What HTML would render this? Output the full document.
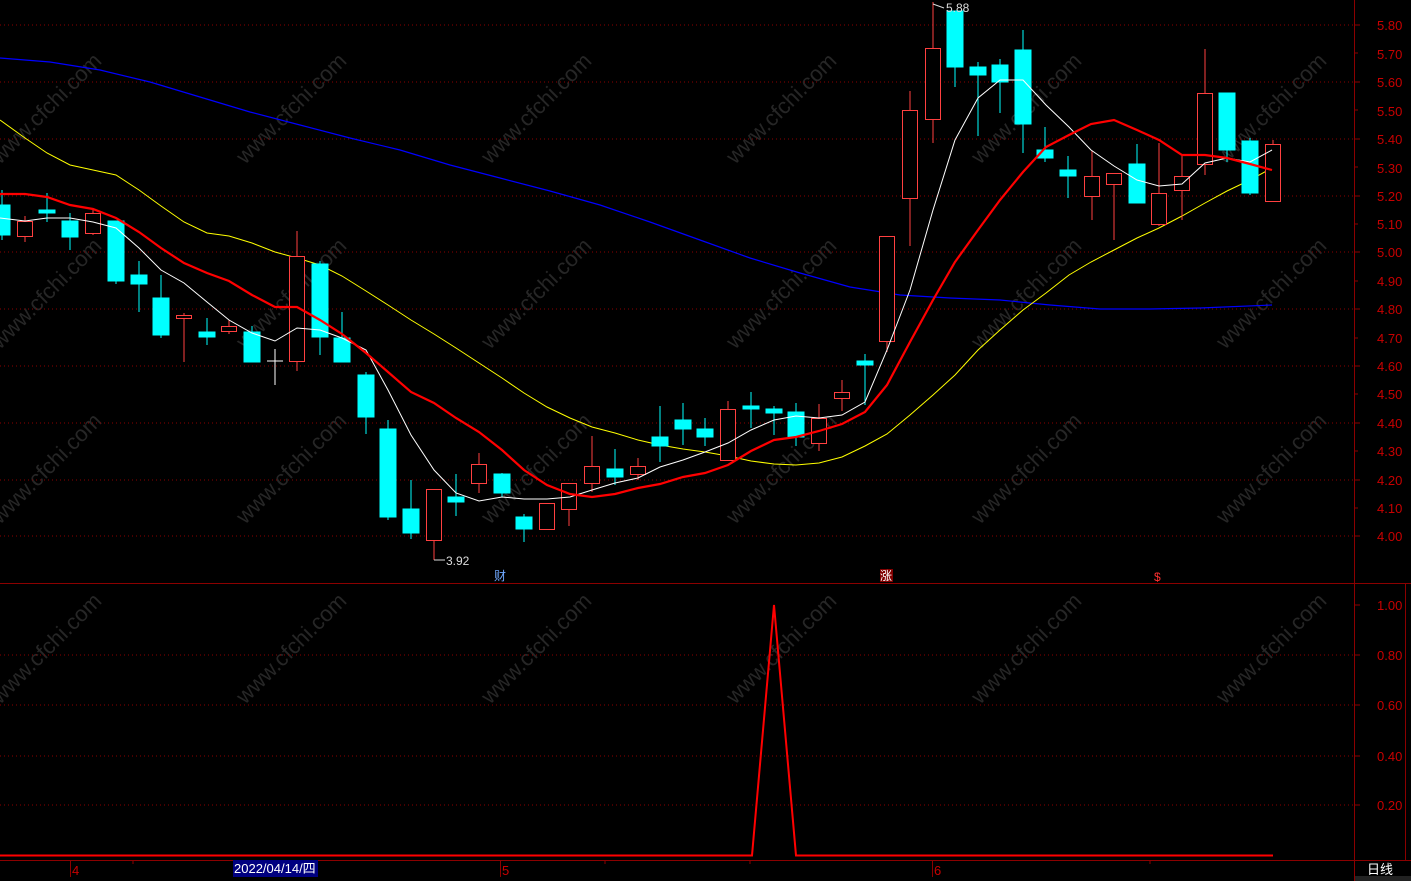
<!DOCTYPE html>
<html><head><meta charset="utf-8"><style>
html,body{margin:0;padding:0;background:#000;}
svg{display:block;font-family:"Liberation Sans","Noto Sans CJK SC",sans-serif;}
</style></head><body>
<svg width="1411" height="881" viewBox="0 0 1411 881" xmlns="http://www.w3.org/2000/svg">
<rect width="1411" height="881" fill="#000"/>
<!-- watermarks -->
<g fill="#262626" font-size="22" font-family="Liberation Sans,sans-serif">
<text transform="translate(0,165) rotate(-45)">www.cfchi.com</text>
<text transform="translate(245,165) rotate(-45)">www.cfchi.com</text>
<text transform="translate(490,165) rotate(-45)">www.cfchi.com</text>
<text transform="translate(735,165) rotate(-45)">www.cfchi.com</text>
<text transform="translate(980,165) rotate(-45)">www.cfchi.com</text>
<text transform="translate(1225,165) rotate(-45)">www.cfchi.com</text>
<text transform="translate(0,350) rotate(-45)">www.cfchi.com</text>
<text transform="translate(245,350) rotate(-45)">www.cfchi.com</text>
<text transform="translate(490,350) rotate(-45)">www.cfchi.com</text>
<text transform="translate(735,350) rotate(-45)">www.cfchi.com</text>
<text transform="translate(980,350) rotate(-45)">www.cfchi.com</text>
<text transform="translate(1225,350) rotate(-45)">www.cfchi.com</text>
<text transform="translate(0,525) rotate(-45)">www.cfchi.com</text>
<text transform="translate(245,525) rotate(-45)">www.cfchi.com</text>
<text transform="translate(490,525) rotate(-45)">www.cfchi.com</text>
<text transform="translate(735,525) rotate(-45)">www.cfchi.com</text>
<text transform="translate(980,525) rotate(-45)">www.cfchi.com</text>
<text transform="translate(1225,525) rotate(-45)">www.cfchi.com</text>
<text transform="translate(0,705) rotate(-45)">www.cfchi.com</text>
<text transform="translate(245,705) rotate(-45)">www.cfchi.com</text>
<text transform="translate(490,705) rotate(-45)">www.cfchi.com</text>
<text transform="translate(735,705) rotate(-45)">www.cfchi.com</text>
<text transform="translate(980,705) rotate(-45)">www.cfchi.com</text>
<text transform="translate(1225,705) rotate(-45)">www.cfchi.com</text>
</g>
<!-- grid -->
<g stroke="#8b0000" stroke-width="1" stroke-dasharray="1,3">
<line x1="0" y1="25" x2="1354" y2="25"/><line x1="0" y1="82" x2="1354" y2="82"/>
<line x1="0" y1="139" x2="1354" y2="139"/><line x1="0" y1="196" x2="1354" y2="196"/>
<line x1="0" y1="252" x2="1354" y2="252"/><line x1="0" y1="309" x2="1354" y2="309"/>
<line x1="0" y1="366" x2="1354" y2="366"/><line x1="0" y1="423" x2="1354" y2="423"/>
<line x1="0" y1="480" x2="1354" y2="480"/><line x1="0" y1="536" x2="1354" y2="536"/>
<line x1="0" y1="655" x2="1354" y2="655"/><line x1="0" y1="705" x2="1354" y2="705"/>
<line x1="0" y1="756" x2="1354" y2="756"/><line x1="0" y1="805" x2="1354" y2="805"/>
</g>
<!-- frame -->
<g stroke="#8b0000" stroke-width="1" fill="none">
<line x1="1354.5" y1="0" x2="1354.5" y2="881"/>
<line x1="0" y1="583.5" x2="1411" y2="583.5"/>
<line x1="0" y1="860.5" x2="1411" y2="860.5"/>
<line x1="1405.5" y1="583" x2="1405.5" y2="860"/>
<line x1="1354" y1="0" x2="1354" y2="0"/>
</g>
<g stroke="#8b0000">
<line x1="1354" y1="25" x2="1360" y2="25"/><line x1="1354" y1="53" x2="1358" y2="53"/>
<line x1="1354" y1="82" x2="1360" y2="82"/><line x1="1354" y1="110" x2="1358" y2="110"/>
<line x1="1354" y1="139" x2="1360" y2="139"/><line x1="1354" y1="167" x2="1358" y2="167"/>
<line x1="1354" y1="196" x2="1360" y2="196"/><line x1="1354" y1="224" x2="1358" y2="224"/>
<line x1="1354" y1="252" x2="1360" y2="252"/><line x1="1354" y1="281" x2="1358" y2="281"/>
<line x1="1354" y1="309" x2="1360" y2="309"/><line x1="1354" y1="338" x2="1358" y2="338"/>
<line x1="1354" y1="366" x2="1360" y2="366"/><line x1="1354" y1="394" x2="1358" y2="394"/>
<line x1="1354" y1="423" x2="1360" y2="423"/><line x1="1354" y1="451" x2="1358" y2="451"/>
<line x1="1354" y1="480" x2="1360" y2="480"/><line x1="1354" y1="508" x2="1358" y2="508"/>
<line x1="1354" y1="536" x2="1360" y2="536"/>
<line x1="1354" y1="605" x2="1360" y2="605"/><line x1="1354" y1="655" x2="1360" y2="655"/>
<line x1="1354" y1="705" x2="1360" y2="705"/><line x1="1354" y1="756" x2="1360" y2="756"/>
<line x1="1354" y1="805" x2="1360" y2="805"/>
</g>
<g fill="#c80000" font-size="13">
<text x="1377" y="30">5.80</text><text x="1377" y="59">5.70</text><text x="1377" y="87">5.60</text>
<text x="1377" y="116">5.50</text><text x="1377" y="144">5.40</text><text x="1377" y="173">5.30</text>
<text x="1377" y="201">5.20</text><text x="1377" y="229">5.10</text><text x="1377" y="257">5.00</text>
<text x="1377" y="286">4.90</text><text x="1377" y="314">4.80</text><text x="1377" y="343">4.70</text>
<text x="1377" y="371">4.60</text><text x="1377" y="399">4.50</text><text x="1377" y="428">4.40</text>
<text x="1377" y="456">4.30</text><text x="1377" y="485">4.20</text><text x="1377" y="513">4.10</text>
<text x="1377" y="541">4.00</text>
<text x="1377" y="610">1.00</text><text x="1377" y="660">0.80</text><text x="1377" y="710">0.60</text>
<text x="1377" y="761">0.40</text><text x="1377" y="810">0.20</text>
</g>
<!-- MA60 blue -->
<polyline fill="none" stroke="#0000ff" stroke-width="1.2" points="0,58 50,62 100,70 150,82 200,97 250,112 300,125 350,138 400,150 450,165 500,178 550,191 600,205 650,222 700,240 750,258 800,273 850,287 900,295 950,298 1000,300 1050,305 1100,309 1150,309 1200,308 1272,305"/>
<!-- MA20 yellow -->
<polyline fill="none" stroke="#ffff00" stroke-width="1" points="0,120 25,138 47,153 70,165 93,170 116,175 139,190 161,206 184,222 207,233 229,236 252,243 275,252 297,258 320,265 342,276 366,291 388,305 411,320 434,334 456,348 479,363 502,378 524,393 547,407 570,418 592,427 615,433 638,440 660,445 683,449 705,452 728,456 751,461 774,464 796,465 819,463 842,457 865,446 887,434 910,415 933,395 955,375 978,350 1000,330 1023,310 1046,293 1069,275 1091,262 1114,250 1137,238 1159,228 1182,216 1205,203 1227,191 1250,180 1272,168"/>
<!-- candles -->
<g stroke-width="1">
<g stroke="#00ffff" fill="#00ffff">
<line x1="2" y1="190" x2="2" y2="240"/><rect x="-6" y="205" width="16" height="30"/>
<line x1="47" y1="193" x2="47" y2="222"/><rect x="39" y="210" width="16" height="3"/>
<line x1="70" y1="213" x2="70" y2="250"/><rect x="62" y="221" width="16" height="16"/>
<line x1="116" y1="221" x2="116" y2="284"/><rect x="108" y="221" width="16" height="60"/>
<line x1="139" y1="261" x2="139" y2="312"/><rect x="131" y="275" width="16" height="9"/>
<line x1="161" y1="275" x2="161" y2="338"/><rect x="153" y="298" width="16" height="37"/>
<line x1="207" y1="318" x2="207" y2="345"/><rect x="199" y="332" width="16" height="5"/>
<line x1="252" y1="326" x2="252" y2="362"/><rect x="244" y="332" width="16" height="30"/>
<line x1="320" y1="261" x2="320" y2="355"/><rect x="312" y="264" width="16" height="73"/>
<line x1="342" y1="312" x2="342" y2="362"/><rect x="334" y="338" width="16" height="24"/>
<line x1="366" y1="372" x2="366" y2="434"/><rect x="358" y="375" width="16" height="42"/>
<line x1="388" y1="420" x2="388" y2="520"/><rect x="380" y="429" width="16" height="88"/>
<line x1="411" y1="480" x2="411" y2="539"/><rect x="403" y="509" width="16" height="24"/>
<line x1="456" y1="474" x2="456" y2="516"/><rect x="448" y="497" width="16" height="5"/>
<line x1="502" y1="473" x2="502" y2="497"/><rect x="494" y="474" width="16" height="19"/>
<line x1="524" y1="514" x2="524" y2="542"/><rect x="516" y="517" width="16" height="12"/>
<line x1="615" y1="449" x2="615" y2="485"/><rect x="607" y="469" width="16" height="8"/>
<line x1="660" y1="406" x2="660" y2="462"/><rect x="652" y="437" width="16" height="9"/>
<line x1="683" y1="403" x2="683" y2="445"/><rect x="675" y="420" width="16" height="9"/>
<line x1="705" y1="418" x2="705" y2="446"/><rect x="697" y="429" width="16" height="8"/>
<line x1="751" y1="392" x2="751" y2="428"/><rect x="743" y="406" width="16" height="3"/>
<line x1="774" y1="406" x2="774" y2="435"/><rect x="766" y="409" width="16" height="4"/>
<line x1="796" y1="403" x2="796" y2="446"/><rect x="788" y="412" width="16" height="25"/>
<line x1="865" y1="354" x2="865" y2="405"/><rect x="857" y="361" width="16" height="4"/>
<line x1="955" y1="11" x2="955" y2="87"/><rect x="947" y="11" width="16" height="56"/>
<line x1="978" y1="62" x2="978" y2="136"/><rect x="970" y="67" width="16" height="8"/>
<line x1="1000" y1="59" x2="1000" y2="113"/><rect x="992" y="65" width="16" height="17"/>
<line x1="1023" y1="30" x2="1023" y2="153"/><rect x="1015" y="50" width="16" height="74"/>
<line x1="1045" y1="127" x2="1045" y2="162"/><rect x="1037" y="150" width="16" height="8"/>
<line x1="1068" y1="156" x2="1068" y2="198"/><rect x="1060" y="170" width="16" height="6"/>
<line x1="1137" y1="144" x2="1137" y2="203"/><rect x="1129" y="164" width="16" height="39"/>
<line x1="1227" y1="93" x2="1227" y2="162"/><rect x="1219" y="93" width="16" height="57"/>
<line x1="1250" y1="138" x2="1250" y2="195"/><rect x="1242" y="141" width="16" height="52"/>
</g>
<g stroke="#ff4040" fill="#000">
<line x1="25" y1="216" x2="25" y2="242"/><rect x="17.5" y="221.5" width="15" height="15"/>
<line x1="93" y1="208" x2="93" y2="235"/><rect x="85.5" y="213.5" width="15" height="20"/>
<line x1="184" y1="313" x2="184" y2="362"/><rect x="176.5" y="315.5" width="15" height="3"/>
<line x1="229" y1="320" x2="229" y2="334"/><rect x="221.5" y="326.5" width="15" height="5"/>
<line x1="297" y1="231" x2="297" y2="371"/><rect x="289.5" y="256.5" width="15" height="105"/>
<line x1="434" y1="489" x2="434" y2="560"/><rect x="426.5" y="489.5" width="15" height="51"/>
<line x1="479" y1="453" x2="479" y2="493"/><rect x="471.5" y="464.5" width="15" height="19"/>
<line x1="547" y1="503" x2="547" y2="530"/><rect x="539.5" y="503.5" width="15" height="26"/>
<line x1="569" y1="483" x2="569" y2="526"/><rect x="561.5" y="483.5" width="15" height="26"/>
<line x1="592" y1="436" x2="592" y2="492"/><rect x="584.5" y="466.5" width="15" height="17"/>
<line x1="638" y1="458" x2="638" y2="480"/><rect x="630.5" y="466.5" width="15" height="8"/>
<line x1="728" y1="401" x2="728" y2="461"/><rect x="720.5" y="409.5" width="15" height="51"/>
<line x1="819" y1="404" x2="819" y2="451"/><rect x="811.5" y="418.5" width="15" height="25"/>
<line x1="842" y1="380" x2="842" y2="411"/><rect x="834.5" y="392.5" width="15" height="6"/>
<line x1="887" y1="236" x2="887" y2="352"/><rect x="879.5" y="236.5" width="15" height="105"/>
<line x1="910" y1="91" x2="910" y2="246"/><rect x="902.5" y="110.5" width="15" height="88"/>
<line x1="933" y1="2" x2="933" y2="143"/><rect x="925.5" y="48.5" width="15" height="71"/>
<line x1="1092" y1="151" x2="1092" y2="220"/><rect x="1084.5" y="176.5" width="15" height="20"/>
<line x1="1114" y1="173" x2="1114" y2="240"/><rect x="1106.5" y="173.5" width="15" height="11"/>
<line x1="1159" y1="143" x2="1159" y2="226"/><rect x="1151.5" y="193.5" width="15" height="31"/>
<line x1="1182" y1="155" x2="1182" y2="220"/><rect x="1174.5" y="176.5" width="15" height="14"/>
<line x1="1205" y1="49" x2="1205" y2="175"/><rect x="1197.5" y="93.5" width="15" height="71"/>
<line x1="1273" y1="140" x2="1273" y2="201"/><rect x="1265.5" y="144.5" width="15" height="57"/>
</g>
<g stroke="#fff"><line x1="275" y1="349" x2="275" y2="385"/><line x1="267" y1="361" x2="283" y2="361"/></g>
</g>
<!-- MA5 white -->
<polyline fill="none" stroke="#ffffff" stroke-width="1" points="0,218 25,221 47,218 70,218 93,222 116,228 139,248 161,270 184,283 207,302 229,320 252,333 275,341 297,328 320,330 342,338 366,350 388,390 411,435 434,470 456,493 479,501 502,497 524,499 547,499 570,497 592,490 615,483 638,478 660,467 683,460 705,452 728,443 751,430 774,420 796,416 819,418 842,415 865,402 887,350 910,290 933,210 955,140 978,98 1000,80 1023,80 1046,105 1069,127 1091,150 1114,166 1137,180 1159,186 1182,184 1205,163 1227,158 1250,162 1272,150"/>
<!-- MA10 red -->
<polyline fill="none" stroke="#ff0000" stroke-width="2.2" points="0,194 25,194 47,197 70,205 93,209 116,218 139,232 161,248 184,263 207,273 229,281 252,295 275,307 297,307 320,320 342,334 366,353 388,372 411,392 434,403 456,418 479,432 502,450 524,470 547,485 570,494 592,497 615,494 638,488 660,484 683,477 705,473 728,465 751,451 774,440 796,437 819,431 842,424 865,412 887,385 910,342 933,300 955,262 978,230 1000,200 1023,172 1046,147 1069,135 1091,124 1114,120 1137,130 1159,140 1182,155 1205,155 1227,158 1250,164 1272,170"/>
<!-- labels -->
<g fill="#ddd" font-size="12">
<text x="946" y="12">5.88</text><line x1="933" y1="4" x2="944" y2="8" stroke="#ddd"/>
<text x="446" y="565">3.92</text><line x1="434" y1="560" x2="445" y2="560" stroke="#ddd"/>
</g>
<text x="494" y="580" fill="#6fa8ff" font-size="12">财</text>
<rect x="880" y="569" width="13" height="13" fill="#800000"/>
<text x="880" y="580" fill="#fff" font-size="12">涨</text>
<text x="1154" y="581" fill="#ff3030" font-size="12">$</text>
<!-- indicator -->
<polyline fill="none" stroke="#ff0000" stroke-width="2" points="0,855.5 752,855.5 774,605 796,855.5 1273,855.5"/>
<!-- bottom axis -->
<g stroke="#8b0000">
<line x1="70.5" y1="861" x2="70.5" y2="877"/><line x1="500.5" y1="861" x2="500.5" y2="877"/><line x1="932.5" y1="861" x2="932.5" y2="877"/>
<line x1="133" y1="861" x2="133" y2="864"/><line x1="293" y1="861" x2="293" y2="864"/><line x1="605" y1="861" x2="605" y2="864"/><line x1="750" y1="861" x2="750" y2="864"/><line x1="1150" y1="861" x2="1150" y2="864"/>
</g>
<g fill="#c80000" font-size="13"><text x="72" y="875">4</text><text x="502" y="875">5</text><text x="934" y="875">6</text></g>
<rect x="233" y="860" width="85" height="17" fill="#000080"/>
<text x="234" y="873" fill="#fff" font-size="13">2022/04/14/四</text>
<rect x="1355" y="876" width="56" height="5" fill="#222"/>
<text x="1367" y="874" fill="#fff" font-size="13">日线</text>
</svg>
</body></html>
